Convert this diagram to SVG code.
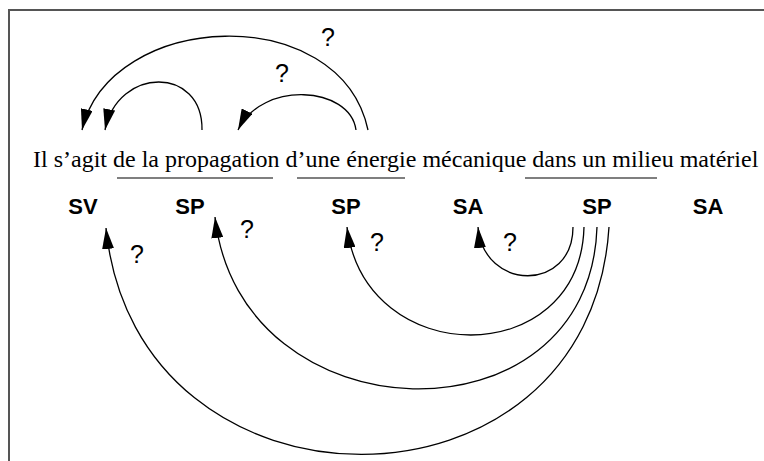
<svg xmlns="http://www.w3.org/2000/svg" width="764" height="461" viewBox="0 0 764 461">
<style>
.frame{fill:none;stroke:#555;stroke-width:2}
.ul{stroke:#555;stroke-width:1.6}
.sent{font-family:"Liberation Serif","Times New Roman",serif;font-size:24px;fill:#000}
.lab{font-family:"Liberation Sans",Arial,sans-serif;font-weight:bold;font-size:22px;fill:#000;text-anchor:middle}
.q{font-family:"Liberation Sans",Arial,sans-serif;font-size:25px;fill:#000;text-anchor:middle}
.arc{fill:none;stroke:#000;stroke-width:1.3;marker-end:url(#ah)}
</style>
<defs>
<marker id="ah" markerUnits="userSpaceOnUse" markerWidth="21" markerHeight="12" refX="21" refY="6" orient="auto" viewBox="0 0 21 12">
<path d="M0,0 L21,6 L0,12 z" fill="#000"/>
</marker>
</defs>
<rect width="764" height="461" fill="#fff"/>
<path class="frame" d="M9,470 L9,10 L770,10"/>
<g id="sentence">
<text class="sent" x="33" y="167">Il s’agit de la propagation d’une énergie mécanique dans un milieu matériel</text>
<line class="ul" x1="117" y1="178" x2="273" y2="178"/>
<line class="ul" x1="297" y1="178" x2="405" y2="178"/>
<line class="ul" x1="525" y1="178" x2="657" y2="178"/>
</g>
<g id="n-sv"><text class="lab" x="83" y="214">SV</text></g>
<g id="n-sp1"><text class="lab" x="190" y="214">SP</text></g>
<g id="n-sp2"><text class="lab" x="346" y="214">SP</text></g>
<g id="n-sa1"><text class="lab" x="468" y="214">SA</text></g>
<g id="n-sp3"><text class="lab" x="597" y="214">SP</text></g>
<g id="n-sa2"><text class="lab" x="708" y="214">SA</text></g>
<g id="connectors">
<path class="arc" d="M202,130 C203,66 118,66 105,130"/>
<path class="arc" d="M368,130 C340,0 110,10 82,130"/>
<path class="arc" d="M356,130 C350,86 262,80 238,130"/>
<path class="arc" d="M573,227 C573,292 484,292 478,227"/>
<path class="arc" d="M584,227 C580,371 365,371 347,227"/>
<path class="arc" d="M597,227 C590,449 240,440 215,217"/>
<path class="arc" d="M609,227 C590,530 136,530 106,228"/>
</g>
<g id="labels">
<text class="q" x="328" y="46">?</text>
<text class="q" x="282" y="82">?</text>
<text class="q" x="137" y="263">?</text>
<text class="q" x="247" y="238">?</text>
<text class="q" x="377" y="251">?</text>
<text class="q" x="510" y="251">?</text>
</g>
</svg>
